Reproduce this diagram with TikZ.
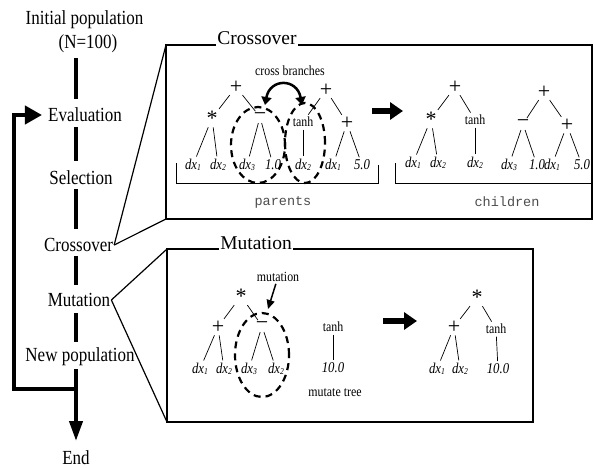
\documentclass[tikz,border=0pt]{standalone}
\usepackage{fontspec}
\setmainfont{Liberation Serif}
\setmonofont{Liberation Mono}
\newfontfamily\cfont{Liberation Serif}[FakeStretch=0.85]
\usetikzlibrary{arrows.meta}
\newcommand\dxv[1]{dx\raisebox{-0.2ex}{\fontsize{9}{9}\selectfont #1}}
\begin{document}
\begin{tikzpicture}[x=1pt,y=-1pt,
  lab/.style={font=\cfont\fontsize{20}{22}\selectfont, inner sep=1pt},
  ttl/.style={font=\fontsize{19.5}{21}\selectfont, inner sep=1pt, fill=white, anchor=base, text depth=2.5pt},
  op/.style={font=\fontsize{22}{22}\selectfont, inner sep=0.5pt},
  lf/.style={font=\cfont\itshape\fontsize{15}{15}\selectfont, inner sep=1pt},
  fn/.style={font=\cfont\fontsize{14}{14}\selectfont, inner sep=1pt},
  mono/.style={font=\ttfamily\fontsize{13.5}{14}\selectfont, text=black!70, inner sep=1pt},
  edge/.style={line width=0.7pt, shorten <=1.5pt, shorten >=1.5pt},
  flowseg/.style={line width=4pt, shorten <=6pt, shorten >=6pt},
  flow/.style={line width=4pt, line join=miter},
  frame/.style={line width=1.8pt},
  zoomline/.style={line width=1.2pt},
  oval/.style={line width=2.2pt, dash pattern=on 7pt off 5pt},
  bigarrow/.style={line width=6pt, -{Triangle[length=13pt,width=17pt]}},
  bracket/.style={line width=0.8pt}
]
\useasboundingbox (0,0) rectangle (594,468);

% ---------- left column ----------
\node[lab] (init) at (84.5,20) {Initial population};
\node[lab] (n100) at (88,44) {(N=100)};
\node[lab] (eval) at (85,115) {Evaluation};
\node[lab] (sel) at (81,178) {Selection};
\node[lab] (cross) at (78.5,245) {Crossover};
\node[lab] (mut) at (79,300) {Mutation};
\node[lab] (newp) at (80,357) {New population};
\node[lab, anchor=base] (end) at (76,464) {End};

\coordinate (v0) at (76,58);
\coordinate (v1) at (76,99);
\coordinate (v2) at (76,127);
\coordinate (v3) at (76,161);
\coordinate (v4) at (76,189);
\coordinate (v5) at (76,229);
\coordinate (v6) at (76,256);
\coordinate (v7) at (76,285);
\coordinate (v8) at (76,313);
\coordinate (v9) at (76,342);
\coordinate (v10) at (76,369);
\coordinate (v11) at (76,441);
\draw[line width=4pt] (v0) -- (v1);
\draw[line width=4pt] (v2) -- (v3);
\draw[line width=4pt] (v4) -- (v5);
\draw[line width=4pt] (v6) -- (v7);
\draw[line width=4pt] (v8) -- (v9);
\draw[line width=4pt, -{Triangle[length=20pt,width=13pt]}] (v10) -- (v11);

\coordinate (lp) at (78,389);
\coordinate (lc1) at (14,389);
\coordinate (lc2) at (14,115);
\draw[flow, shorten >=5pt, -{Triangle[length=17pt,width=18pt]}] (lp) -- (lc1) -- (lc2) -- (eval.west);

% ---------- crossover box ----------
\coordinate (cTL) at (166,45);
\coordinate (cBL) at (166,219);
\coordinate (cBR) at (592,219);
\draw[frame] (cTL) rectangle (cBR);
\node[ttl] (ctitle) at (257,45) {Crossover};
\draw[zoomline] (cross.east) -- (cTL);
\draw[zoomline] (cross.east) -- (cBL);

% parent 1
\node[op] (p1r) at (236,87) {+};
\node[op] (p1a) at (212,118) {*};
\node[op] (p1m) at (260,117) {−};
\node[lf] (p1l1) at (193,165) {\dxv{1}};
\node[lf] (p1l2) at (218,165) {\dxv{2}};
\node[lf] (p1l3) at (247,165) {\dxv{3}};
\node[lf] (p1l4) at (273,165) {1.0};
\draw[edge] (p1r) -- (p1a);
\draw[edge] (p1r) -- (p1m);
\draw[edge] (p1a) -- (p1l1);
\draw[edge] (p1a) -- (p1l2);
\draw[edge] (p1m) -- (p1l3);
\draw[edge] (p1m) -- (p1l4);

% parent 2
\node[op] (p2r) at (326,90) {+};
\node[fn] (p2t) at (303,122) {tanh};
\node[op] (p2p) at (347,123) {+};
\node[lf] (p2l1) at (303,165) {\dxv{2}};
\node[lf] (p2l2) at (333,165) {\dxv{1}};
\node[lf] (p2l3) at (362,165) {5.0};
\draw[edge] (p2r) -- (p2t);
\draw[edge] (p2r) -- (p2p);
\draw[edge] (p2t) -- (p2l1);
\draw[edge] (p2p) -- (p2l2);
\draw[edge] (p2p) -- (p2l3);

% cross branches
\node[fn] (cb) at (290,71) {cross branches};
\coordinate (cbA) at (265,105);
\coordinate (cbB) at (302,105);
\draw[line width=2.5pt, {Triangle[length=8pt,width=10pt]}-{Triangle[length=8pt,width=10pt]}]
  (cbA) .. controls (270,78) and (297,78) .. (cbB);
\draw[oval] (258,145) ellipse [x radius=27pt, y radius=38pt];
\draw[oval] (305,143) ellipse [x radius=20pt, y radius=40pt];

% parents bracket
\coordinate (pbA) at (176,163);
\coordinate (pbB) at (378,165);
\draw[bracket] (pbA) -- (176,183) -- (378,183) -- (pbB);
\node[mono] (parents) at (283,202) {parents};

% arrow
\coordinate (xa1) at (372,111);
\coordinate (xa2) at (403,111);
\draw[bigarrow] (xa1) -- (xa2);

% child 1
\node[op] (c1r) at (455,87) {+};
\node[op] (c1a) at (431,119) {*};
\node[fn] (c1t) at (475,120) {tanh};
\node[lf] (c1l1) at (413,163) {\dxv{1}};
\node[lf] (c1l2) at (438,163) {\dxv{2}};
\node[lf] (c1l3) at (475,163) {\dxv{2}};
\draw[edge] (c1r) -- (c1a);
\draw[edge] (c1r) -- (c1t);
\draw[edge] (c1a) -- (c1l1);
\draw[edge] (c1a) -- (c1l2);
\draw[edge] (c1t) -- (c1l3);

% child 2
\node[op] (c2r) at (544,92) {+};
\node[op] (c2m) at (523,124) {−};
\node[op] (c2p) at (567,125) {+};
\node[lf] (c2l1) at (509,165) {\dxv{3}};
\node[lf] (c2l2) at (537,165) {1.0};
\node[lf] (c2l3) at (552,165) {\dxv{1}};
\node[lf] (c2l4) at (582,165) {5.0};
\draw[edge] (c2r) -- (c2m);
\draw[edge] (c2r) -- (c2p);
\draw[edge] (c2m) -- (c2l1);
\draw[edge] (c2m) -- (c2l2);
\draw[edge] (c2p) -- (c2l3);
\draw[edge] (c2p) -- (c2l4);

% children bracket
\coordinate (chA) at (395,163);
\draw[bracket] (chA) -- (395,183) -- (cBR |- 0,183);
\node[mono] (children) at (507,202) {children};

% ---------- mutation box ----------
\coordinate (mTL) at (167,249);
\coordinate (mBL) at (167,422);
\coordinate (mBR) at (533,422);
\draw[frame] (mTL) rectangle (mBR);
\node[ttl] (mtitle) at (256,249) {Mutation};
\draw[zoomline] (mut.east) -- (mTL);
\draw[zoomline] (mut.east) -- (mBL);

% mutated tree
\node[op] (m1r) at (241,296) {*};
\node[op] (m1p) at (218,327) {+};
\node[op] (m1m) at (262,326) {−};
\node[lf] (m1l1) at (200,369) {\dxv{1}};
\node[lf] (m1l2) at (224,369) {\dxv{2}};
\node[lf] (m1l3) at (249,369) {\dxv{3}};
\node[lf] (m1l4) at (276,369) {\dxv{2}};
\draw[edge] (m1r) -- (m1p);
\draw[edge] (m1r) -- (m1m);
\draw[edge] (m1p) -- (m1l1);
\draw[edge] (m1p) -- (m1l2);
\draw[edge] (m1m) -- (m1l3);
\draw[edge] (m1m) -- (m1l4);
\draw[oval] (262,355) ellipse [x radius=27pt, y radius=42pt];

\node[fn] (mlab) at (278,277) {mutation};
\coordinate (mtip) at (268,309);
\draw[line width=1.5pt, shorten <=1pt, -{Triangle[length=9pt,width=8pt]}] (mlab) -- (mtip);

% mutate tree
\node[fn] (mt) at (333,327) {tanh};
\node[lf] (mtl) at (333,368) {10.0};
\draw[edge] (mt) -- (mtl);
\node[fn] (mtlab) at (335,393) {mutate tree};

% arrow
\coordinate (ma1) at (383,321);
\coordinate (ma2) at (417,321);
\draw[bigarrow] (ma1) -- (ma2);

% result tree
\node[op] (r1r) at (477,297) {*};
\node[op] (r1p) at (454,327) {+};
\node[fn] (r1t) at (496,329) {tanh};
\node[lf] (r1l1) at (437,369) {\dxv{1}};
\node[lf] (r1l2) at (460,369) {\dxv{2}};
\node[lf] (r1l3) at (498,369) {10.0};
\draw[edge] (r1r) -- (r1p);
\draw[edge] (r1r) -- (r1t);
\draw[edge] (r1p) -- (r1l1);
\draw[edge] (r1p) -- (r1l2);
\draw[edge] (r1t) -- (r1l3);
\end{tikzpicture}
\end{document}
